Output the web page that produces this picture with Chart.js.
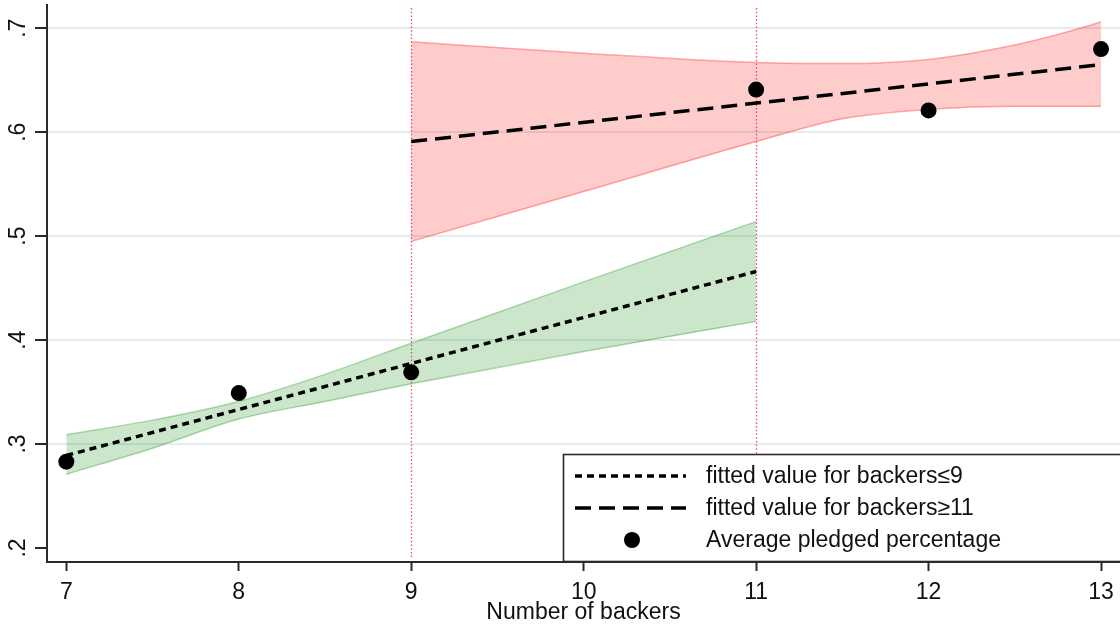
<!DOCTYPE html>
<html>
<head>
<meta charset="utf-8">
<script src="https://cdn.jsdelivr.net/npm/chart.js@4/dist/chart.umd.min.js"></script>
<style>
  html, body { margin: 0; padding: 0; background: #ffffff; }
  #wrap { width: 1120px; height: 626px; }
</style>
</head>
<body>
<div id="wrap"><canvas id="c" width="1120" height="626"></canvas></div>
<script>
// Axis ticks
const xTicks = [7, 8, 9, 10, 11, 12, 13];
const yTicks = [0.2, 0.3, 0.4, 0.5, 0.6, 0.7];
const yTickLabels = ['.2', '.3', '.4', '.5', '.6', '.7'];

// Average pledged percentage by number of backers
const backers = [7, 8, 9, 11, 12, 13];
const pledged = [0.283, 0.349, 0.369, 0.641, 0.621, 0.680];

// Linear fit for backers <= 9 (extended to 11)
const fitLowX = [7, 11];
const fitLowY = [0.289, 0.466];
// Linear fit for backers >= 11 (extended back to 9)
const fitHighX = [9, 13];
const fitHighY = [0.591, 0.665];

// 95% confidence band, backers <= 9 fit
const ciLowX = [7, 7.5, 8, 8.5, 9, 10, 11];
const ciLowUpper = [0.309, 0.323, 0.341, 0.367, 0.397, 0.456, 0.514];
const ciLowLower = [0.271, 0.296, 0.324, 0.341, 0.358, 0.389, 0.418];

// 95% confidence band, backers >= 11 fit
const ciHighX = [9, 10, 11, 11.5, 12, 12.5, 12.75, 13];
const ciHighUpper = [0.687, 0.676, 0.667, 0.666, 0.670, 0.684, 0.694, 0.706];
const ciHighLower = [0.495, 0.543, 0.591, 0.613, 0.622, 0.625, 0.625, 0.625];

// Cut-offs marked with vertical reference lines
const refLines = [9, 11];

const legendLabels = [
  'fitted value for backers\u22649',
  'fitted value for backers\u226511',
  'Average pledged percentage'
];

const FONT = "'Liberation Sans', Arial, Helvetica, sans-serif";
const INK = '#111111';
const AXIS = '#2b2b2b';

const pts = (xs, ys) => xs.map((x, i) => ({ x: x, y: ys[i] }));

const decor = {
  id: 'decor',
  beforeDatasetsDraw(chart) {
    const { ctx, chartArea, scales } = chart;
    ctx.save();
    ctx.strokeStyle = 'rgba(225, 45, 85, 0.85)';
    ctx.lineWidth = 1.3;
    ctx.setLineDash([1.5, 2.2]);
    refLines.forEach(v => {
      const px = Math.round(scales.x.getPixelForValue(v)) + 0.5;
      ctx.beginPath();
      ctx.moveTo(px, chartArea.top + 3);
      ctx.lineTo(px, chartArea.bottom - 3);
      ctx.stroke();
    });
    ctx.restore();
  },
  afterDraw(chart) {
    const { ctx, scales } = chart;
    ctx.save();
    // rotated y tick labels
    ctx.fillStyle = INK;
    ctx.font = '23px ' + FONT;
    ctx.textAlign = 'center';
    ctx.textBaseline = 'alphabetic';
    yTicks.forEach((v, i) => {
      const py = scales.y.getPixelForValue(v);
      ctx.save();
      ctx.translate(25, py);
      ctx.rotate(-Math.PI / 2);
      ctx.fillText(yTickLabels[i], 0, 0);
      ctx.restore();
    });

    // legend box
    const bx = 563.5, by = 454.5, bw = 580, bh = 107;
    ctx.fillStyle = '#ffffff';
    ctx.fillRect(bx, by, bw, bh);
    ctx.strokeStyle = AXIS;
    ctx.lineWidth = 1.6;
    ctx.setLineDash([]);
    ctx.strokeRect(bx, by, bw, bh);

    const rows = [476, 508, 540];
    const sx0 = 575, sx1 = 686;
    ctx.strokeStyle = '#000000';
    ctx.lineWidth = 3.5;
    ctx.lineCap = 'butt';
    ctx.setLineDash([7, 5]);
    ctx.beginPath(); ctx.moveTo(sx0, rows[0]); ctx.lineTo(sx1, rows[0]); ctx.stroke();
    ctx.setLineDash([16, 8]);
    ctx.beginPath(); ctx.moveTo(sx0, rows[1]); ctx.lineTo(sx1, rows[1]); ctx.stroke();
    ctx.setLineDash([]);
    ctx.fillStyle = '#000000';
    ctx.beginPath(); ctx.arc(632, rows[2], 8, 0, Math.PI * 2); ctx.fill();

    ctx.fillStyle = INK;
    ctx.font = '23px ' + FONT;
    ctx.textAlign = 'left';
    ctx.textBaseline = 'middle';
    legendLabels.forEach((t, i) => ctx.fillText(t, 706, rows[i] + 1));
    ctx.restore();
  }
};

new Chart(document.getElementById('c'), {
  type: 'line',
  data: {
    datasets: [
      {
        label: legendLabels[2],
        data: pts(backers, pledged),
        showLine: false,
        pointRadius: 8,
        pointBackgroundColor: '#000000',
        pointBorderWidth: 0,
        fill: false
      },
      {
        label: legendLabels[1],
        data: pts(fitHighX, fitHighY),
        borderColor: '#000000',
        borderWidth: 3.5,
        borderDash: [16, 8],
        pointRadius: 0,
        fill: false
      },
      {
        label: legendLabels[0],
        data: pts(fitLowX, fitLowY),
        borderColor: '#000000',
        borderWidth: 3.5,
        borderDash: [7, 5],
        pointRadius: 0,
        fill: false
      },
      {
        label: 'CI high upper',
        data: pts(ciHighX, ciHighUpper),
        borderColor: 'rgba(255, 90, 90, 0.5)',
        borderWidth: 1.5,
        backgroundColor: 'rgba(255, 0, 0, 0.2)',
        pointRadius: 0,
        cubicInterpolationMode: 'monotone',
        fill: '+1'
      },
      {
        label: 'CI high lower',
        data: pts(ciHighX, ciHighLower),
        borderColor: 'rgba(255, 90, 90, 0.5)',
        borderWidth: 1.5,
        pointRadius: 0,
        cubicInterpolationMode: 'monotone',
        fill: false
      },
      {
        label: 'CI low upper',
        data: pts(ciLowX, ciLowUpper),
        borderColor: 'rgba(60, 160, 60, 0.4)',
        borderWidth: 1.5,
        backgroundColor: 'rgba(0, 128, 0, 0.2)',
        pointRadius: 0,
        cubicInterpolationMode: 'monotone',
        fill: '+1'
      },
      {
        label: 'CI low lower',
        data: pts(ciLowX, ciLowLower),
        borderColor: 'rgba(60, 160, 60, 0.4)',
        borderWidth: 1.5,
        pointRadius: 0,
        cubicInterpolationMode: 'monotone',
        fill: false
      }
    ]
  },
  options: {
    responsive: false,
    animation: false,
    devicePixelRatio: 1,
    layout: { autoPadding: false, padding: { top: 5, left: 0, right: 0, bottom: 0 } },
    plugins: {
      legend: { display: false },
      tooltip: { enabled: false }
    },
    elements: { line: { tension: 0 } },
    scales: {
      x: {
        type: 'linear',
        min: 6.888,
        max: 13.11,
        afterBuildTicks: s => { s.ticks = xTicks.map(v => ({ value: v })); },
        afterFit: s => { s.height = 64; s.paddingLeft = 0; s.paddingRight = 0; },
        ticks: {
          autoSkip: false,
          maxRotation: 0,
          minRotation: 0,
          padding: 8,
          color: INK,
          font: { family: FONT, size: 23 },
          callback: v => String(v)
        },
        grid: {
          drawOnChartArea: false,
          drawTicks: true,
          tickLength: 9,
          tickColor: AXIS,
          tickWidth: 2
        },
        border: { color: AXIS, width: 2 },
        title: {
          display: true,
          text: 'Number of backers',
          color: INK,
          font: { family: FONT, size: 23 },
          padding: { top: 0, bottom: 0 }
        }
      },
      y: {
        type: 'linear',
        min: 0.1865,
        max: 0.7224,
        afterBuildTicks: s => { s.ticks = yTicks.map(v => ({ value: v })); },
        afterFit: s => { s.width = 47; s.paddingTop = 0; s.paddingBottom = 0; },
        ticks: {
          color: 'rgba(0,0,0,0)',
          font: { size: 1 },
          padding: 0
        },
        grid: {
          color: c => (c.tick && c.tick.value === 0.2) ? 'rgba(0,0,0,0)' : '#e3eced',
          lineWidth: 2,
          drawTicks: true,
          tickLength: 12,
          tickColor: AXIS,
          tickWidth: 2
        },
        border: { color: AXIS, width: 2 }
      }
    }
  },
  plugins: [decor]
});
</script>
</body>
</html>
